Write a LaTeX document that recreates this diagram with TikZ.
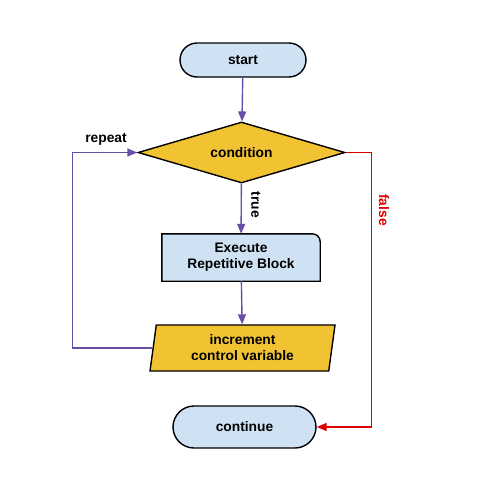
\documentclass[tikz,border=0pt]{standalone}
\usepackage{fontspec}
\setmainfont{Liberation Sans}
\usetikzlibrary{shapes.geometric,arrows.meta}
\definecolor{lblue}{HTML}{CFE2F3}
\definecolor{gold}{HTML}{F1C232}
\definecolor{lpurple}{HTML}{674EA7}
\definecolor{fred}{HTML}{DD0000}
\begin{document}
\begin{tikzpicture}[x=1pt,y=-1pt,
  font=\fontsize{13.8pt}{16pt}\selectfont\bfseries,
  shp/.style={draw=black,line width=1.4pt,inner sep=0pt,align=center},
  term/.style={shp,fill=lblue,rounded corners=17pt,minimum width=126pt,minimum height=34pt},
  cond/.style={shp,fill=gold,diamond,aspect=3.4,minimum width=207pt,minimum height=61pt},
  para/.style={shp,fill=gold,trapezium,trapezium left angle=76.5,trapezium right angle=103.5,trapezium stretches body,minimum width=185pt,minimum height=46pt},
  conn/.style={draw=lpurple,line width=1.4pt,-{Triangle[length=10pt,width=8pt]}},
  fconn/.style={draw=fred,line width=1.4pt,-{Triangle[length=10pt,width=8pt]}},
  lab/.style={font=\fontsize{13.8pt}{16pt}\selectfont\bfseries}]
\useasboundingbox (0,0) rectangle (480,480);
\node[term] (start) at (243,60) {start};
\node[cond] (cond) at (241.5,152.5) {condition};
\node[inner sep=0pt,minimum width=158pt,minimum height=47pt,align=center] (exec) at (241,257.5) {\phantom{Execute}};
\draw[fill=lblue,line width=1.4pt] (exec.south west) -- (exec.north west) -- ([xshift=-8pt]exec.north east) arc[start angle=90,end angle=0,radius=8pt] -- (exec.south east) -- cycle;
\node[inner sep=0pt,align=center] (exectext) at (exec.center) {Execute\\Repetitive Block};
\node[para] (inc) at (242.5,348) {increment\\control variable};
\node[term,minimum width=143pt,minimum height=42pt,rounded corners=21pt] (cont) at (244.5,427) {continue};
\draw[conn] (start) -- (cond);
\draw[conn] (cond) -- node[pos=0.42,right=6pt,rotate=-90,anchor=south,lab] {true} (exec);
\draw[conn] (exec) -- (inc);
\draw[conn] (inc.west) -- ++(-80,0) coordinate (rp) |- (cond.west);
\node[lab,anchor=south] (rlab) at (106,149) {repeat};
\draw[fconn] (cond.east) -- ++(26,0) coordinate (fp) |- (cont.east);
\node[lab,text=fred,rotate=-90] (flab) at (384,210) {false};
\end{tikzpicture}
\end{document}
